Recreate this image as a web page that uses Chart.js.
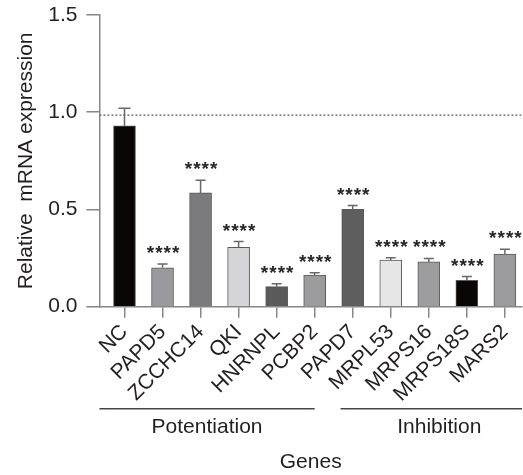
<!DOCTYPE html>
<html>
<head>
<meta charset="utf-8">
<script src="https://cdn.jsdelivr.net/npm/chart.js@4/dist/chart.umd.min.js"></script>
<style>
  html, body { margin: 0; padding: 0; background: #fff; }
  #wrap { width: 523px; height: 475px; }
</style>
</head>
<body>
<div id="wrap"><canvas id="geneChart"></canvas></div>
<script>
const genes = ['NC', 'PAPD5', 'ZCCHC14', 'QKI', 'HNRNPL', 'PCBP2', 'PAPD7', 'MRPL53', 'MRPS16', 'MRPS18S', 'MARS2'];
const expression = [0.93, 0.20, 0.585, 0.305, 0.103, 0.163, 0.50, 0.24, 0.23, 0.135, 0.27];
const errors = [0.09, 0.02, 0.065, 0.03, 0.015, 0.012, 0.02, 0.012, 0.018, 0.02, 0.025];
const significance = ['', '****', '****', '****', '****', '****', '****', '****', '****', '****', '****'];
const barColors = ['#0a0606', '#9a9a9e', '#7b7b7d', '#d6d6d8', '#5a5a5b', '#9c9c9e', '#5e5e5f', '#e6e6e6', '#9d9d9f', '#0a0606', '#9b9b9d'];
const yTicks = [0, 0.5, 1.0, 1.5];
const referenceLevel = 0.985;
const groupNames = ['Potentiation', 'Inhibition'];
const groupFrom = [-0.66, 5.68];
const groupTo = [5.0, 10.45];

const axisColor = '#8a8683';
const textColor = '#231f20';
const fontFamily = "'Liberation Sans', Arial, sans-serif";

// error bars + asterisks
const errorBarPlugin = {
    id: 'errorBars',
    afterDatasetsDraw(chart) {
        const ctx = chart.ctx;
        const y = chart.scales.y;
        const meta = chart.getDatasetMeta(0);
        ctx.save();
        meta.data.forEach((bar, i) => {
            const top = y.getPixelForValue(expression[i]);
            const errTop = y.getPixelForValue(expression[i] + errors[i]);
            const cap = i === 0 ? 6 : 5;
            ctx.strokeStyle = '#6b6766';
            ctx.lineWidth = 1.5;
            ctx.beginPath();
            ctx.moveTo(bar.x, top);
            ctx.lineTo(bar.x, errTop);
            ctx.moveTo(bar.x - cap, errTop);
            ctx.lineTo(bar.x + cap, errTop);
            ctx.stroke();
            if (significance[i]) {
                ctx.fillStyle = '#2a2526';
                ctx.font = 'bold 19px ' + fontFamily;
                ctx.letterSpacing = '1px';
                ctx.textAlign = 'center';
                ctx.textBaseline = 'alphabetic';
                ctx.fillText(significance[i], bar.x + 1, errTop - 5);
            }
        });
        ctx.restore();
    }
};

// dotted reference line + group brackets below the axis
const annotationPlugin = {
    id: 'annotations',
    afterDraw(chart) {
        const ctx = chart.ctx;
        const x = chart.scales.x;
        const y = chart.scales.y;
        const area = chart.chartArea;
        ctx.save();
        const ry = y.getPixelForValue(referenceLevel);
        ctx.strokeStyle = '#5f5b5a';
        ctx.lineWidth = 1.2;
        ctx.setLineDash([2, 2]);
        ctx.beginPath();
        ctx.moveTo(area.left, ry);
        ctx.lineTo(chart.width, ry);
        ctx.stroke();
        ctx.setLineDash([]);

        const lineY = area.bottom + 102;
        groupNames.forEach((name, g) => {
            const x1 = x.getPixelForValue(groupFrom[g]);
            const x2 = x.getPixelForValue(groupTo[g]);
            ctx.strokeStyle = '#4a4546';
            ctx.lineWidth = 1.5;
            ctx.beginPath();
            ctx.moveTo(x1, lineY);
            ctx.lineTo(x2, lineY);
            ctx.stroke();
            ctx.fillStyle = textColor;
            ctx.font = '21px ' + fontFamily;
            ctx.textAlign = 'center';
            ctx.textBaseline = 'middle';
            ctx.fillText(name, (x1 + x2) / 2 + (g === 0 ? 0 : 8), lineY + 19);
        });
        ctx.restore();
    }
};

new Chart(document.getElementById('geneChart'), {
    type: 'bar',
    data: {
        datasets: [{
            data: genes.map((g, i) => ({ x: i, y: expression[i] })),
            backgroundColor: barColors,
            borderColor: '#5d5959',
            borderWidth: 1,
            barThickness: 22
        }]
    },
    options: {
        responsive: true,
        maintainAspectRatio: false,
        animation: false,
        layout: { padding: { top: 15, right: 1, left: 14 } },
        plugins: {
            legend: { display: false },
            tooltip: { enabled: false }
        },
        scales: {
            x: {
                type: 'linear',
                offset: false,
                min: -0.66,
                max: 10.45,
                afterBuildTicks: s => { s.ticks = genes.map((g, i) => ({ value: i })); },
                afterFit: s => { s.paddingLeft = 0; s.paddingRight = 0; },
                grid: { offset: false, drawOnChartArea: false, drawTicks: true, tickLength: 11, color: axisColor, lineWidth: 1.5 },
                border: { color: axisColor, width: 1.5 },
                ticks: {
                    autoSkip: false,
                    minRotation: 45,
                    maxRotation: 45,
                    padding: 2,
                    color: textColor,
                    font: { size: 21, family: fontFamily },
                    callback: v => genes[v]
                },
                title: {
                    display: true,
                    text: 'Genes',
                    color: textColor,
                    font: { size: 21, family: fontFamily },
                    padding: { top: 41, bottom: 0 }
                }
            },
            y: {
                min: 0,
                max: 1.5,
                afterBuildTicks: s => { s.ticks = yTicks.map(v => ({ value: v })); },
                afterFit: s => { s.paddingTop = 0; s.paddingBottom = 0; },
                grid: { drawOnChartArea: false, drawTicks: true, tickLength: 13, color: axisColor, lineWidth: 1.5 },
                border: { color: axisColor, width: 1.5 },
                ticks: {
                    padding: 9,
                    color: textColor,
                    font: { size: 21, family: fontFamily },
                    callback: v => v.toFixed(1)
                },
                title: {
                    display: true,
                    text: 'Relative  mRNA expression',
                    color: textColor,
                    font: { size: 21, family: fontFamily },
                    padding: { top: 0, bottom: 0 }
                }
            }
        }
    },
    plugins: [errorBarPlugin, annotationPlugin]
});
</script>
</body>
</html>
